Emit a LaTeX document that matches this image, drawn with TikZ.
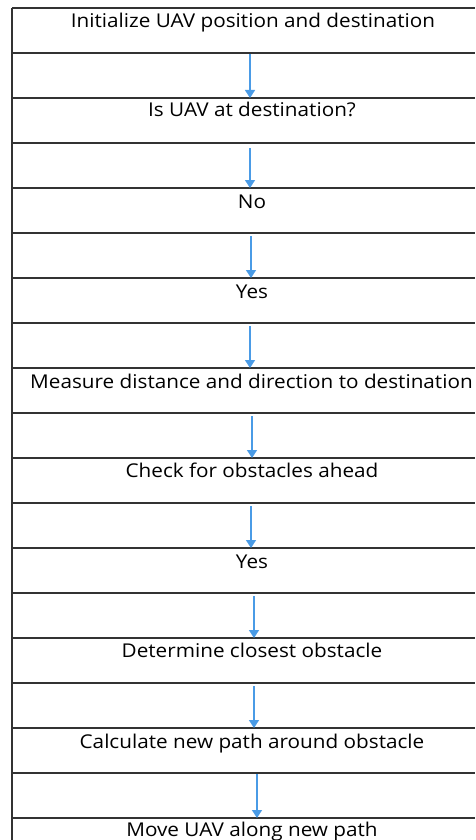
\documentclass[tikz,border=0pt]{standalone}
\usepackage{fontspec}
\setmainfont{Open Sans}[FakeStretch=1.09]
\usetikzlibrary{arrows.meta}
\definecolor{arrowblue}{HTML}{4A9BE6}
\definecolor{rulegray}{HTML}{333333}
\tikzset{
  rowline/.style={draw=rulegray, line width=1.1pt},
  flowarrow/.style={draw=arrowblue, line width=1.3pt, -{Triangle[width=10pt,length=8pt]}},
  rowtext/.style={anchor=base, inner sep=0pt, font=\fontsize{19}{22}\selectfont, text=black}
}
\begin{document}
\begin{tikzpicture}[x=1pt,y=-1pt]
\useasboundingbox (0,0) rectangle (475,840);
\fill[white] (0,0) rectangle (475,840);
% horizontal rules
\foreach \k in {0,...,18}{
  \draw[rowline] (12,{8+45*\k}) -- (475,{8+45*\k});
}
% left border
\draw[rowline] (12,8) -- (12,840);
% texts
\node[rowtext] (t0) at (253,28) {Initialize UAV position and destination};
\node[rowtext] (t1) at (252,117) {Is UAV at destination?};
\node[rowtext] (t2) at (252,208) {No};
\node[rowtext] (t3) at (252,298) {Yes};
\node[rowtext] (t4) at (251.5,388) {Measure distance and direction to destination};
\node[rowtext] (t5) at (252,477) {Check for obstacles ahead};
\node[rowtext] (t6) at (252,568) {Yes};
\node[rowtext] (t7) at (252,657) {Determine closest obstacle};
\node[rowtext] (t8) at (252,748) {Calculate new path around obstacle};
\node[rowtext] (t9) at (252,836) {Move UAV along new path};
% arrow endpoints
\coordinate (a1s) at (250,54);  \coordinate (a1e) at (250,98);
\coordinate (a2s) at (250,148); \coordinate (a2e) at (250,188);
\coordinate (a3s) at (251,236); \coordinate (a3e) at (251,278);
\coordinate (a4s) at (250,326); \coordinate (a4e) at (250,368);
\coordinate (a5s) at (252,416); \coordinate (a5e) at (252,458);
\coordinate (a6s) at (251,506); \coordinate (a6e) at (251,548);
\coordinate (a7s) at (254,596); \coordinate (a7e) at (254,638);
\coordinate (a8s) at (254,686); \coordinate (a8e) at (254,728);
\coordinate (a9s) at (257,774); \coordinate (a9e) at (257,818);
\foreach \i in {1,...,9}{
  \draw[flowarrow] (a\i s) -- (a\i e);
}
\end{tikzpicture}
\end{document}
